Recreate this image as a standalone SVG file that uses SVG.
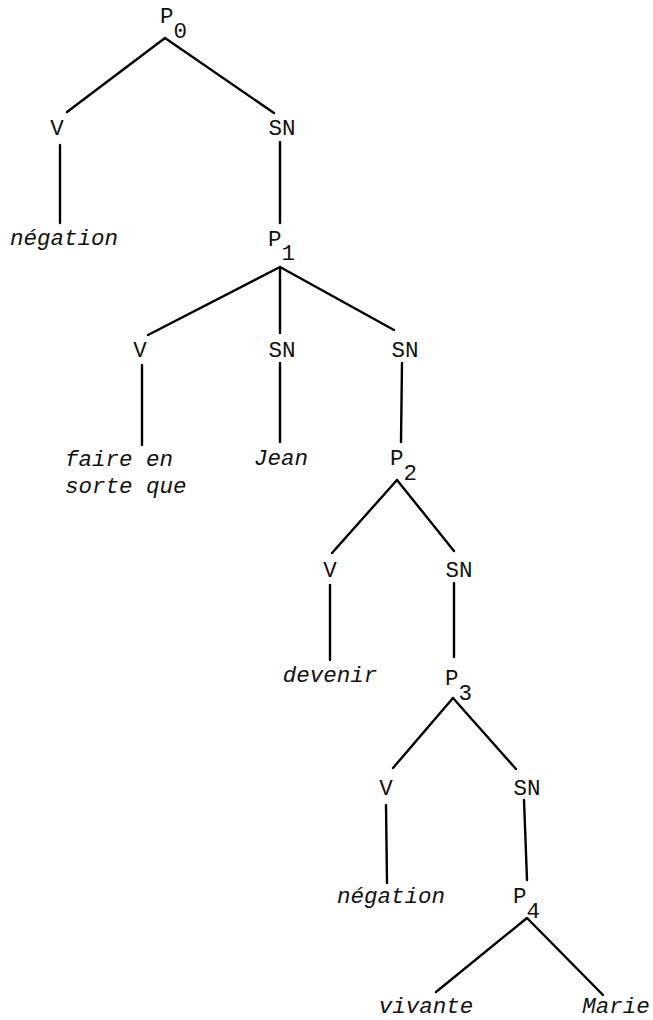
<svg xmlns="http://www.w3.org/2000/svg" width="653" height="1020" viewBox="0 0 653 1020">
<style>
text{font-family:"Liberation Mono","DejaVu Sans Mono",monospace;font-size:22.5px;fill:#111;}
.c{text-anchor:middle;}
.i{font-style:italic;}
#connectors line{stroke:#000;stroke-width:2.4;stroke-linecap:round;}
</style>
<rect width="653" height="1020" fill="#fff"/>
<g id="connectors">
<line x1="165" y1="38" x2="67" y2="112"/>
<line x1="165" y1="38" x2="274" y2="113"/>
<line x1="60" y1="145" x2="60" y2="223"/>
<line x1="280" y1="142" x2="280" y2="223"/>
<line x1="280" y1="267" x2="148" y2="335"/>
<line x1="280" y1="267" x2="280" y2="333"/>
<line x1="280" y1="267" x2="394" y2="330"/>
<line x1="142" y1="365" x2="142" y2="445"/>
<line x1="280" y1="363" x2="280" y2="442"/>
<line x1="402" y1="363" x2="401" y2="442"/>
<line x1="397" y1="480" x2="332" y2="553"/>
<line x1="397" y1="480" x2="454" y2="551"/>
<line x1="330" y1="585" x2="330" y2="660"/>
<line x1="454" y1="583" x2="454" y2="657"/>
<line x1="453" y1="698" x2="393" y2="768"/>
<line x1="453" y1="698" x2="516" y2="769"/>
<line x1="386" y1="805" x2="387" y2="883"/>
<line x1="524" y1="800" x2="527" y2="880"/>
<line x1="527" y1="918" x2="436" y2="992"/>
<line x1="527" y1="918" x2="603" y2="995"/>
</g>
<g id="P0"><text x="160" y="23">P<tspan dy="15">0</tspan></text></g>
<g id="V0"><text class="c" x="57" y="135">V</text></g>
<g id="SN0"><text class="c" x="282" y="135">SN</text></g>
<g id="negation1"><text class="c i" x="64" y="245">négation</text></g>
<g id="P1"><text x="268" y="246">P<tspan dy="14">1</tspan></text></g>
<g id="V1"><text class="c" x="140" y="357">V</text></g>
<g id="SN1a"><text class="c" x="282" y="357">SN</text></g>
<g id="SN1b"><text class="c" x="405" y="357">SN</text></g>
<g id="faire"><text class="i" x="65" y="466">faire en</text><text class="i" x="65" y="493">sorte que</text></g>
<g id="Jean"><text class="c i" x="281" y="465">Jean</text></g>
<g id="P2"><text x="390" y="465">P<tspan dy="15">2</tspan></text></g>
<g id="V2"><text class="c" x="330" y="577">V</text></g>
<g id="SN2"><text class="c" x="459" y="577">SN</text></g>
<g id="devenir"><text class="c i" x="330" y="682">devenir</text></g>
<g id="P3"><text x="445" y="685">P<tspan dy="15">3</tspan></text></g>
<g id="V3"><text class="c" x="386" y="795">V</text></g>
<g id="SN3"><text class="c" x="527" y="795">SN</text></g>
<g id="negation2"><text class="c i" x="391" y="903">négation</text></g>
<g id="P4"><text x="513" y="903">P<tspan dy="15">4</tspan></text></g>
<g id="vivante"><text class="c i" x="426" y="1013">vivante</text></g>
<g id="Marie"><text class="c i" x="616" y="1013">Marie</text></g>
</svg>
